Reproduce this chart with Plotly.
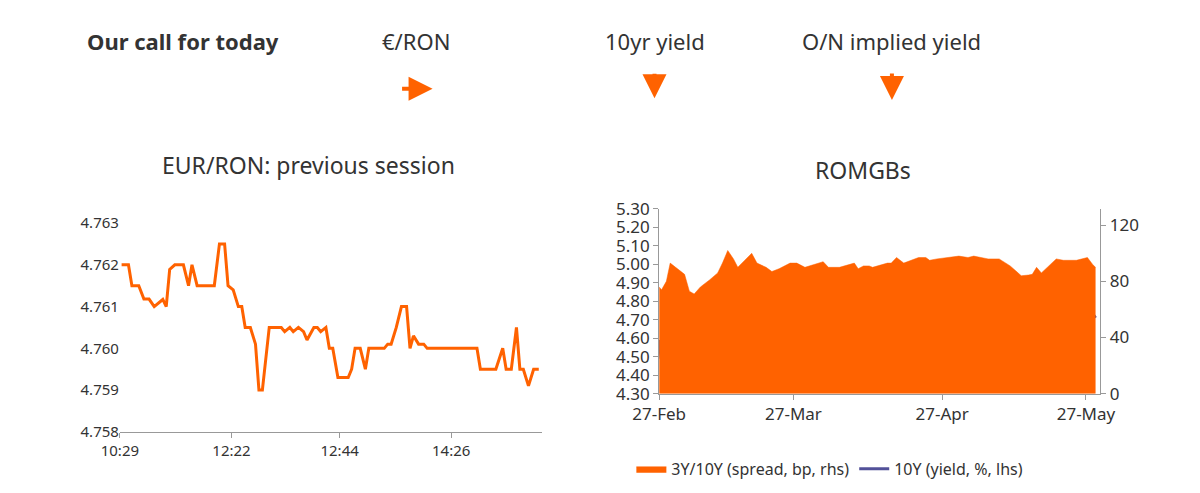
import plotly.graph_objects as go

# EUR/RON intraday
fx_t = [1,5,7,11,14,17,20,25,27,29,32,37,40,42,45,55,58,61,63,66,69,71,73,76,79,81,83,87,94,96,99,101,104,107,109,113,115,117,120,122,124,127,133,135,137,140,143,145,154,156,158,161,164,167,169,171,174,177,179,208,210,219,223,225,228,231,233,235,238,241,244]
fx_v = [4.7620,4.7620,4.7615,4.7615,4.76118,4.76118,4.7610,4.76117,4.7610,4.76189,4.7620,4.7620,4.7615,4.7620,4.7615,4.7615,4.7625,4.7625,4.7615,4.7614,4.7610,4.7610,4.7605,4.7605,4.7601,4.7590,4.7590,4.7605,4.7605,4.7604,4.7605,4.7604,4.7605,4.7604,4.7602,4.7605,4.7605,4.7604,4.7605,4.7600,4.7600,4.7593,4.7593,4.7595,4.7600,4.7600,4.7595,4.7600,4.7600,4.7601,4.7601,4.7605,4.7610,4.7610,4.7600,4.7603,4.7601,4.7601,4.7600,4.7600,4.7595,4.7595,4.7600,4.7595,4.7595,4.7605,4.7595,4.7595,4.7591,4.7595,4.7595]
fx_tickpos = [0,65,128,193]
fx_ticktext = ["10:29","12:22","12:44","14:26"]

# ROMGBs (x = days since 27-Feb)
sp_x = [0,0.5,1.5,2.3,5.3,6.3,7.3,8.6,10.5,12.2,13.2,14.3,15.5,16.4,19.3,20.4,22.3,23.5,25,27.3,28.7,30.4,34.2,35.3,36.5,37.6,40.7,41.5,42.6,43.8,44.5,47.6,48.4,49.5,51,54.1,55.6,56.4,57.9,62.5,64.4,65.6,68.6,70.9,73.2,75.5,77,77.8,78.7,79.7,82.8,84.3,87,89.3,90.4,91]
sp_v = [76,74,80,93,85,73,71,76,81,86,93,102,96,90,100,93,90,87,89,93,93,90,94,90,90,90,93,89,91,91,90,93,93,97,93,97,97,95,96,98,97,98,96,96,91,84,84.5,85,90,86,96,95,95,97,92,90]
yl_x = [0,0.4,1.7,2.3,5.3,6.3,7.3,8.6,9.1,12.2,13.9,15.5,16.1,19.3,20.4,21.6,23.6,26.5,28.1,30.8,33.4,35.3,40.7,42.6,43.5,44.3,47.6,49.5,51.4,55.6,56.4,57.9,62.5,64.4,70.9,71.7,72.8,75.5,76.3,77.4,78.6,79.7,82.8,83.6,87,89.7,91]
yl_v = [4.59,4.49,4.54,4.77,4.63,4.52,4.47,4.49,4.48,4.49,4.69,4.75,4.67,4.67,4.57,4.57,4.46,4.55,4.57,4.57,4.59,4.69,4.69,4.72,4.78,4.75,4.75,4.78,4.75,4.77,4.71,4.71,4.75,4.72,4.72,4.71,4.72,4.67,4.70,4.67,4.71,4.67,4.74,4.78,4.78,4.76,4.71]
rom_tickpos = [0,28,59,89]
rom_ticktext = ["27-Feb","27-Mar","27-Apr","27-May"]

ORANGE = "#FF6200"
PURPLE = "#525199"
TXT = "#333333"
FONT = "Noto Sans"

fig = go.Figure()
fig.add_trace(go.Scatter(x=fx_t, y=fx_v, mode="lines", line=dict(color=ORANGE, width=3),
                         xaxis="x", yaxis="y", showlegend=False))
fig.add_trace(go.Scatter(x=sp_x, y=sp_v, mode="lines", fill="tozeroy", fillcolor=ORANGE,
                         line=dict(color=ORANGE, width=0.5), name="3Y/10Y (spread, bp, rhs)",
                         xaxis="x2", yaxis="y3"))
fig.add_trace(go.Scatter(x=yl_x, y=yl_v, mode="lines", line=dict(color=PURPLE, width=3),
                         name="10Y (yield, %, lhs)", xaxis="x2", yaxis="y2"))

ax_common = dict(showgrid=False, zeroline=False, showline=True, linecolor="#999999",
                 ticks="outside", tickcolor="#999999", tickfont=dict(size=15, color=TXT))
big = {**ax_common, "tickfont": dict(size=17, color=TXT)}
fig.update_layout(
    width=1200, height=493, margin=dict(l=0, r=0, t=0, b=0),
    paper_bgcolor="white", plot_bgcolor="white", font=dict(family=FONT, color=TXT),
    xaxis=dict(domain=[0.0733, 0.438], range=[0, 246], tickvals=fx_tickpos, ticktext=fx_ticktext,
               anchor="y", **ax_common),
    yaxis=dict(domain=[0.1237, 0.568], range=[4.758, 4.763], dtick=0.001, tickformat=".3f",
               anchor="x", showgrid=False, zeroline=False, showline=False, ticks="",
               tickfont=dict(size=15, color=TXT)),
    xaxis2=dict(domain=[0.539, 0.92], range=[0, 92], tickvals=rom_tickpos, ticktext=rom_ticktext,
                anchor="y2", **big),
    yaxis2=dict(domain=[0.205, 0.598], range=[4.30, 5.30], dtick=0.1, tickformat=".2f",
                anchor="x2", **big),
    yaxis3=dict(overlaying="y2", side="right", anchor="x2", range=[0, 131.6], tickvals=[0,40,80,120],
                **big),
    legend=dict(orientation="h", x=0.515, y=0.045, yanchor="middle", xanchor="left",
                font=dict(size=16, color=TXT), bgcolor="rgba(0,0,0,0)"),
)

ann = [
    dict(x=52, y=22, text="<b>Our call for today</b>", xanchor="left", size=22),
    dict(x=395, y=22, text="€/RON", xanchor="center", size=22),
    dict(x=642, y=22, text="10yr yield", xanchor="center", size=22),
    dict(x=888, y=22, text="O/N implied yield", xanchor="center", size=22),
    dict(x=283, y=152, text="EUR/RON: previous session", xanchor="center", size=23),
    dict(x=858, y=157, text="ROMGBs", xanchor="center", size=23),
]
for a in ann:
    fig.add_annotation(x=a["x"]/1200, y=1-a["y"]/493, xref="paper", yref="paper",
                       text=a["text"], xanchor=a["xanchor"], yanchor="middle", showarrow=False,
                       font=dict(size=a["size"], color=TXT, family=FONT))

# arrows (tip position, tail offset in pixels)
for (x1, y1, dx, dy) in [(412, 72, -32, 0), (642, 82, 0, -26), (888, 84, 0, -28)]:
    fig.add_annotation(x=x1/1200, y=1-y1/493, ax=dx, ay=dy, xref="paper", yref="paper",
                       text="", showarrow=True, arrowhead=2,
                       arrowsize=1.2, arrowwidth=4, arrowcolor=ORANGE)

fig.write_html("out.html")
